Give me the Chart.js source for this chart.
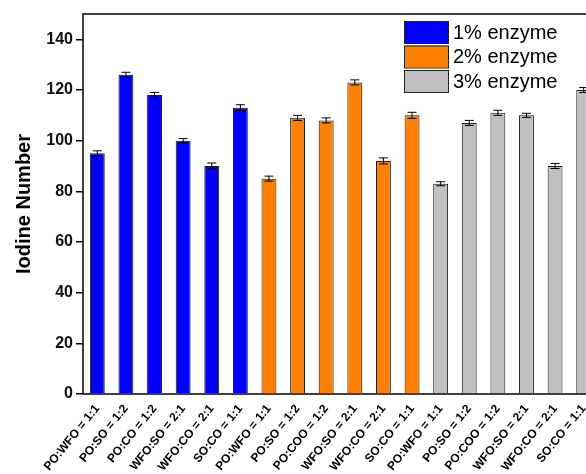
<!DOCTYPE html>
<html>
<head>
<meta charset="utf-8">
<script src="https://cdn.jsdelivr.net/npm/chart.js@4/dist/chart.umd.min.js"></script>
<style>
html, body { margin: 0; padding: 0; overflow: hidden; background: #fff; }
#wrap { width: 600px; height: 474px; }
</style>
</head>
<body>
<div id="wrap"><canvas id="iodine"></canvas></div>
<script>
var labels = [
  'PO:WFO = 1:1', 'PO:SO = 1:2', 'PO:CO = 1:2', 'WFO:SO = 2:1', 'WFO:CO = 2:1', 'SO:CO = 1:1',
  'PO:WFO = 1:1', 'PO:SO = 1:2', 'PO:COO = 1:2', 'WFO:SO = 2:1', 'WFO:CO = 2:1', 'SO:CO = 1:1',
  'PO:WFO = 1:1', 'PO:SO = 1:2', 'PO:COO = 1:2', 'WFO:SO = 2:1', 'WFO:CO = 2:1', 'SO:CO = 1:1'
];
var n = null;
var enzyme1 = [95, 126, 118, 100, 90, 113, n, n, n, n, n, n, n, n, n, n, n, n];
var enzyme2 = [n, n, n, n, n, n, 85, 109, 108, 123, 92, 110, n, n, n, n, n, n];
var enzyme3 = [n, n, n, n, n, n, n, n, n, n, n, n, 83, 107, 111, 110, 90, 120];
var err1 = [1, 1, 1, 0.8, 1.2, 1.2];
var err2 = [1, 1, 1, 1, 1.2, 1.2];
var err3 = [0.8, 1, 1, 0.8, 1, 1];
var yTicks = [0, 20, 40, 60, 80, 100, 120, 140];

// pad the short error arrays out to all categories
function fullErr(vals, e, start) {
  var out = [];
  for (var i = 0; i < vals.length; i++) out.push(vals[i] === null ? null : e[i - start]);
  return out;
}

var errorBars = {
  id: 'errorBars',
  afterDatasetsDraw: function(chart) {
    var ctx = chart.ctx;
    var y = chart.scales.y;
    ctx.save();
    ctx.strokeStyle = '#000';
    ctx.lineWidth = 1;
    chart.data.datasets.forEach(function(ds, di) {
      var meta = chart.getDatasetMeta(di);
      meta.data.forEach(function(bar, i) {
        var v = ds.data[i];
        if (v === null) return;
        var e = ds.errors[i];
        var top = y.getPixelForValue(v + e);
        var bot = y.getPixelForValue(v - e);
        ctx.beginPath();
        ctx.moveTo(bar.x, top); ctx.lineTo(bar.x, bot);
        ctx.moveTo(bar.x - 4.5, top); ctx.lineTo(bar.x + 4.5, top);
        ctx.moveTo(bar.x - 4.5, bot); ctx.lineTo(bar.x + 4.5, bot);
        ctx.stroke();
      });
    });
    ctx.restore();
  }
};

var frame = {
  id: 'frame',
  afterDraw: function(chart) {
    var a = chart.chartArea;
    var ctx = chart.ctx;
    ctx.save();
    ctx.strokeStyle = '#000';
    ctx.lineWidth = 1.5;
    ctx.strokeRect(a.left, a.top, a.right - a.left, a.bottom - a.top);
    ctx.restore();
  }
};

var boxLegend = {
  id: 'boxLegend',
  afterDraw: function(chart) {
    var ctx = chart.ctx;
    ctx.save();
    ctx.font = '20px Arial, "Liberation Sans", sans-serif';
    ctx.textBaseline = 'middle';
    chart.data.datasets.forEach(function(ds, i) {
      var top = 21 + i * 24.5;
      ctx.fillStyle = ds.backgroundColor;
      ctx.fillRect(404, top, 44, 22);
      ctx.strokeStyle = '#222';
      ctx.lineWidth = 1;
      ctx.strokeRect(404.5, top + 0.5, 44, 22);
      ctx.fillStyle = '#000';
      ctx.fillText(ds.label, 453, top + 12);
    });
    ctx.restore();
  }
};

var chart = new Chart(document.querySelector('#iodine').getContext('2d'), {
  type: 'bar',
  data: {
    labels: labels,
    datasets: [
      { label: '1% enzyme', data: enzyme1, errors: fullErr(enzyme1, err1, 0), backgroundColor: '#0000FF' },
      { label: '2% enzyme', data: enzyme2, errors: fullErr(enzyme2, err2, 6), backgroundColor: '#FF8000' },
      { label: '3% enzyme', data: enzyme3, errors: fullErr(enzyme3, err3, 12), backgroundColor: '#C0C0C0' }
    ]
  },
  plugins: [errorBars, frame, boxLegend],
  options: {
    responsive: true,
    maintainAspectRatio: false,
    animation: false,
    layout: { padding: { left: 0, top: 14, right: 2, bottom: 0 } },
    datasets: {
      bar: {
        borderColor: '#1a1a1a',
        borderWidth: 1,
        categoryPercentage: 1,
        barPercentage: 0.52
      }
    },
    plugins: {
      legend: { display: false },
      tooltip: { enabled: false }
    },
    scales: {
      x: {
        stacked: true,
        grid: { display: false, drawOnChartArea: false, drawTicks: true, tickLength: 6, color: '#000', lineWidth: 1.5 },
        border: { display: false },
        ticks: {
          autoSkip: false,
          minRotation: 51,
          maxRotation: 51,
          padding: 2,
          color: '#000',
          font: { family: 'Arial, "Liberation Sans", sans-serif', size: 12, weight: 'bold' }
        },
        afterFit: function(axis) { axis.height = 80; }
      },
      y: {
        min: 0,
        max: 150,
        grid: { drawOnChartArea: false, drawTicks: true, tickLength: 7, color: '#000', lineWidth: 1.5 },
        border: { display: false },
        afterBuildTicks: function(axis) {
          axis.ticks = yTicks.map(function(v) { return { value: v }; });
        },
        ticks: {
          padding: 3,
          color: '#111',
          font: { family: 'Arial, "Liberation Sans", sans-serif', size: 16, weight: 'bold' }
        },
        title: {
          display: true,
          text: 'Iodine Number',
          color: '#000',
          padding: { top: 12, bottom: 0 },
          font: { family: 'Arial, "Liberation Sans", sans-serif', size: 20, weight: 'bold' }
        },
        afterFit: function(axis) { axis.width = 83; }
      }
    }
  }
});
</script>
</body>
</html>
